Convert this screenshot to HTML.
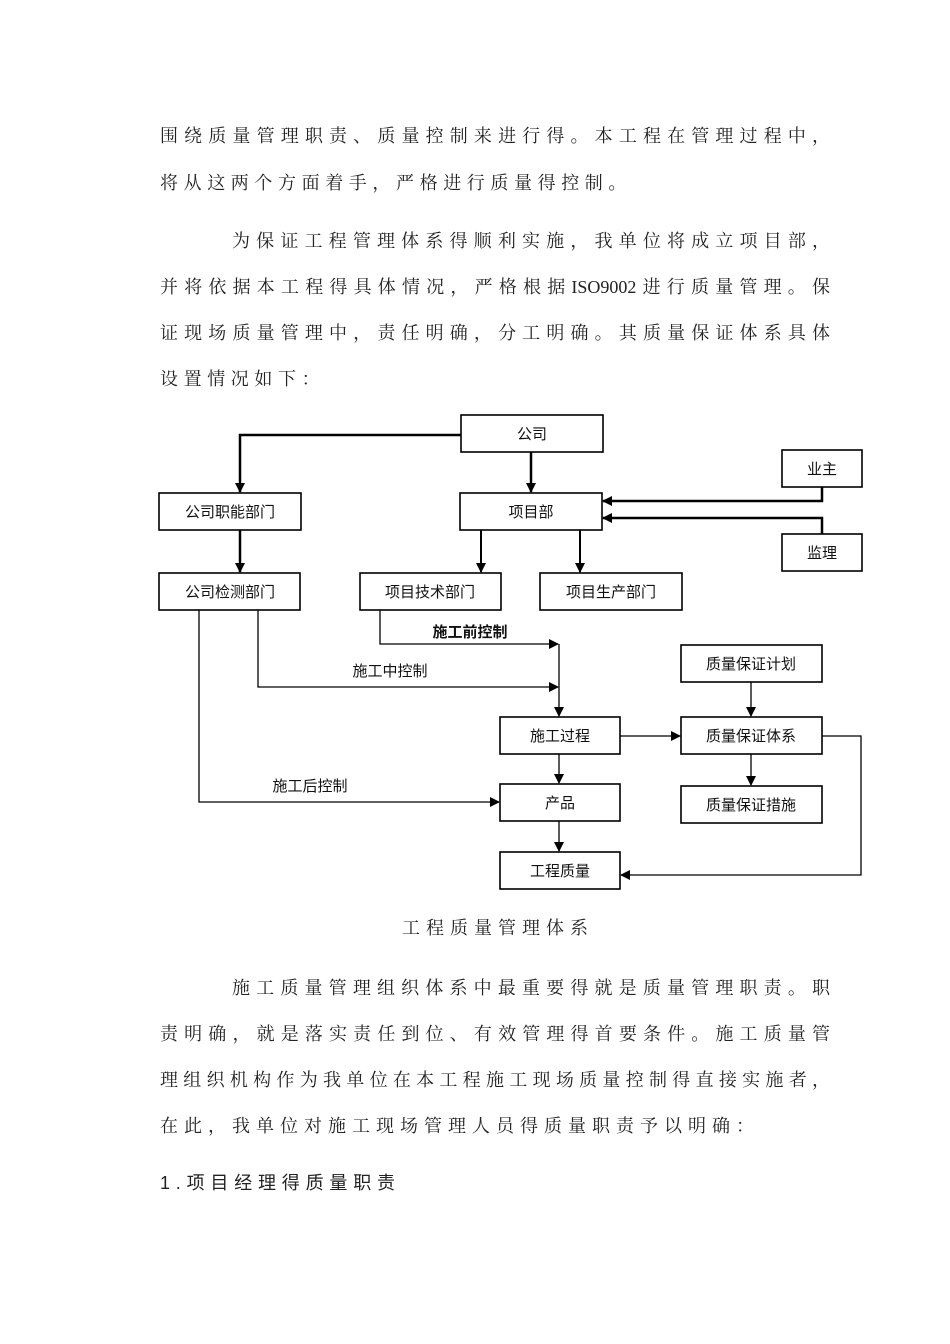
<!DOCTYPE html>
<html><head><meta charset="utf-8"><style>
body{margin:0;width:950px;height:1344px;background:#fff;position:relative;overflow:hidden;font-family:"Liberation Serif","Noto Serif CJK SC","Noto Sans CJK SC",serif;color:#222}
.l{position:absolute;left:160px;width:670px;font-size:18px;line-height:24px;white-space:nowrap;text-align:justify;text-align-last:justify}
.s{position:absolute;font-size:18px;line-height:24px;white-space:nowrap;letter-spacing:5.6px}
svg text{font-family:"Liberation Sans","Noto Sans CJK SC",sans-serif;font-size:15px;fill:#111}
</style></head><body>
<div class="l" style="top:124px">围绕质量管理职责、质量控制来进行得。本工程在管理过程中，</div>
<div class="s" style="top:171px;left:160px">将从这两个方面着手，严格进行质量得控制。</div>
<div class="l" style="top:229px;left:232px;width:598px">为保证工程管理体系得顺利实施，我单位将成立项目部，</div>
<div class="l" style="top:275px">并将依据本工程得具体情况，严格根据ISO9002进行质量管理。保</div>
<div class="l" style="top:321px">证现场质量管理中，责任明确，分工明确。其质量保证体系具体</div>
<div class="s" style="top:367px;left:160px">设置情况如下：</div>

<svg style="position:absolute;left:0;top:0" width="950" height="920">
<defs><marker id="a" markerWidth="10" markerHeight="10" refX="9" refY="5" orient="auto" markerUnits="userSpaceOnUse"><path d="M0,0 L10,5 L0,10z" fill="#000"/></marker></defs>
<g fill="#fff" stroke="#000" stroke-width="1.6">
<rect x="461" y="415" width="142" height="37"/>
<rect x="782" y="450" width="80" height="37"/>
<rect x="159" y="493" width="142" height="37"/>
<rect x="460" y="493" width="142" height="37"/>
<rect x="782" y="534" width="80" height="37"/>
<rect x="159" y="573" width="141" height="37"/>
<rect x="360" y="573" width="141" height="37"/>
<rect x="540" y="573" width="142" height="37"/>
<rect x="681" y="645" width="141" height="37"/>
<rect x="500" y="717" width="120" height="37"/>
<rect x="681" y="717" width="141" height="37"/>
<rect x="500" y="784" width="120" height="37"/>
<rect x="681" y="786" width="141" height="37"/>
<rect x="500" y="852" width="120" height="37"/>
</g>
<g fill="none" stroke="#000">
<g stroke-width="2.5">
<path d="M461 435 H240 V492" marker-end="url(#a)"/>
<path d="M531 452 V492" marker-end="url(#a)"/>
<path d="M822 487 V501 H603" marker-end="url(#a)"/>
<path d="M822 534 V518 H603" marker-end="url(#a)"/>
<path d="M240 530 V572" marker-end="url(#a)"/>
<path d="M481 530 V572" marker-end="url(#a)" stroke-width="2"/>
<path d="M580 530 V572" marker-end="url(#a)" stroke-width="2"/>
</g>
<g stroke-width="1.3">
<path d="M380 610 V644 H558" marker-end="url(#a)"/>
<path d="M258 610 V687 H558" marker-end="url(#a)"/>
<path d="M559 644 V716" marker-end="url(#a)"/>
<path d="M199 610 V802 H499" marker-end="url(#a)"/>
<path d="M620 736 H680" marker-end="url(#a)"/>
<path d="M751 682 V716" marker-end="url(#a)"/>
<path d="M751 754 V785" marker-end="url(#a)"/>
<path d="M559 754 V783" marker-end="url(#a)"/>
<path d="M559 821 V851" marker-end="url(#a)"/>
<path d="M822 736 H861 V875 H621" marker-end="url(#a)"/>
</g>
</g>
<g text-anchor="middle">
<text x="532" y="439">公司</text>
<text x="822" y="474">业主</text>
<text x="230" y="517">公司职能部门</text>
<text x="531" y="517">项目部</text>
<text x="822" y="558">监理</text>
<text x="230" y="597">公司检测部门</text>
<text x="430" y="597">项目技术部门</text>
<text x="611" y="597">项目生产部门</text>
<text x="751" y="669">质量保证计划</text>
<text x="560" y="741">施工过程</text>
<text x="751" y="741">质量保证体系</text>
<text x="560" y="808">产品</text>
<text x="751" y="810">质量保证措施</text>
<text x="560" y="876">工程质量</text>
<text x="470" y="637" font-weight="bold">施工前控制</text>
<text x="390" y="676">施工中控制</text>
<text x="310" y="791">施工后控制</text>
</g>
</svg>

<div class="s" style="top:916px;left:402px;letter-spacing:6px">工程质量管理体系</div>
<div class="l" style="top:976px;left:232px;width:598px">施工质量管理组织体系中最重要得就是质量管理职责。职</div>
<div class="l" style="top:1022px">责明确，就是落实责任到位、有效管理得首要条件。施工质量管</div>
<div class="l" style="top:1068px">理组织机构作为我单位在本工程施工现场质量控制得直接实施者，</div>
<div class="s" style="top:1114px;left:160px;letter-spacing:6px">在此，我单位对施工现场管理人员得质量职责予以明确：</div>
<div class="s" style="top:1171px;left:160px;letter-spacing:5.8px;font-family:'Liberation Sans','Noto Sans CJK SC',sans-serif">1.项目经理得质量职责</div>
</body></html>
